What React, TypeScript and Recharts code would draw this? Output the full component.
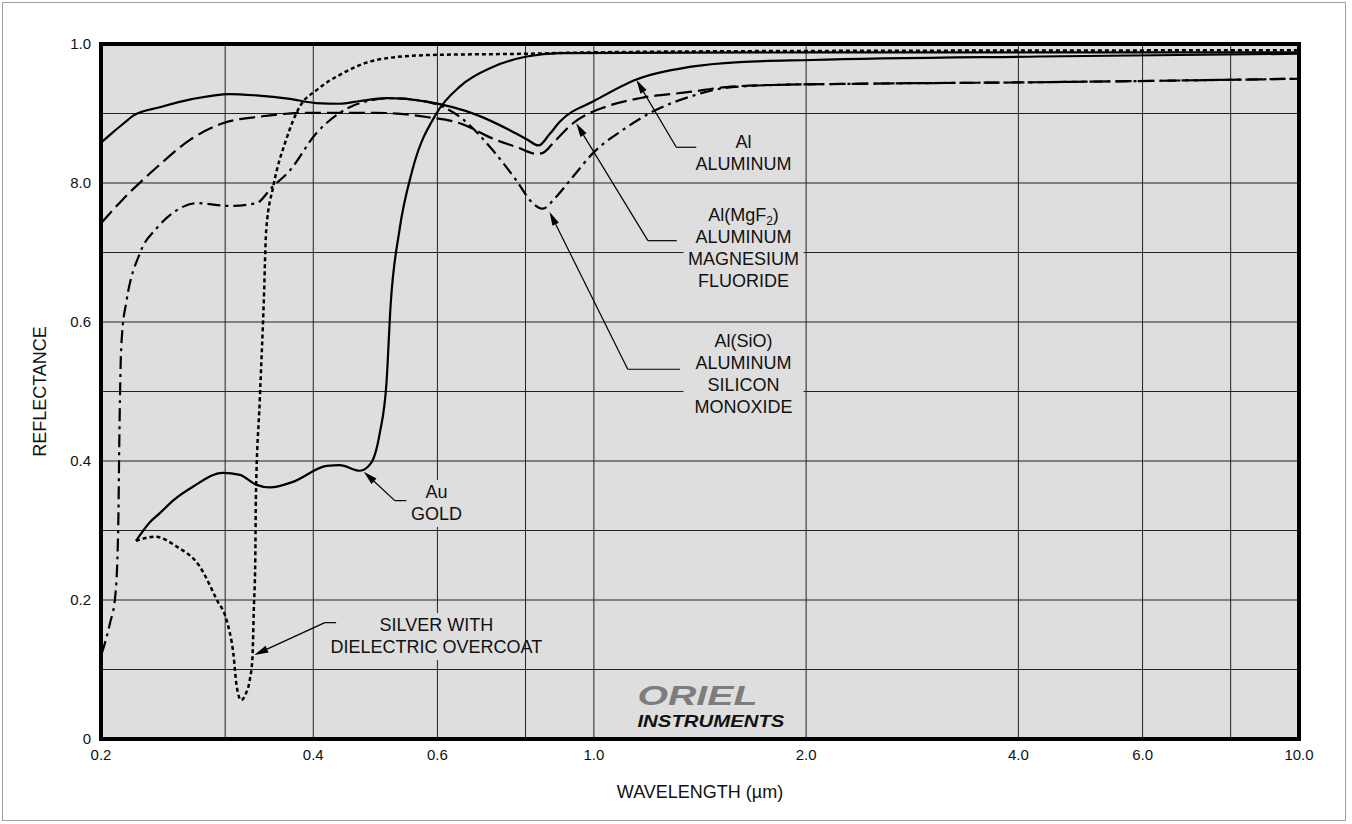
import React from 'react';
import {
  LineChart,
  Line,
  XAxis,
  YAxis,
  CartesianGrid,
  ReferenceArea,
  ReferenceLine,
  ReferenceDot,
} from 'recharts';

// [wavelength µm, reflectance]
const aluminum: [number, number][] = [
  [0.2, 0.858], [0.2085, 0.874], [0.2173, 0.889], [0.2222, 0.897], [0.2424, 0.909],
  [0.27, 0.921], [0.3047, 0.928], [0.332, 0.926], [0.3705, 0.921], [0.404, 0.915],
  [0.436, 0.914], [0.466, 0.918], [0.508, 0.922], [0.579, 0.917], [0.682, 0.898],
  [0.76, 0.876], [0.803, 0.863], [0.835, 0.854], [0.865, 0.87], [0.8945, 0.888],
  [1.005, 0.919], [1.149, 0.949], [1.367, 0.967], [1.609, 0.974], [2.035, 0.977],
  [4.28, 0.982], [10, 0.986],
];

const aluminumMgF2: [number, number][] = [
  [0.2, 0.742], [0.2146, 0.776], [0.2402, 0.823], [0.2674, 0.862], [0.2977, 0.886],
  [0.3392, 0.896], [0.392, 0.901], [0.436, 0.901], [0.4914, 0.901], [0.579, 0.895],
  [0.6456, 0.886], [0.719, 0.864], [0.78, 0.851], [0.829, 0.842], [0.845, 0.843],
  [0.88, 0.86], [0.934, 0.886], [1.042, 0.91], [1.161, 0.922], [1.367, 0.931],
  [1.54, 0.938], [1.79, 0.941], [2.48, 0.943], [4.28, 0.945], [10, 0.95],
];

const aluminumSiO: [number, number][] = [
  [0.2005, 0.123], [0.206, 0.167], [0.2095, 0.205], [0.2115, 0.296], [0.2124, 0.44],
  [0.2132, 0.535], [0.2143, 0.584], [0.2172, 0.628], [0.2271, 0.699], [0.2399, 0.735],
  [0.253, 0.757], [0.2733, 0.771], [0.3047, 0.767], [0.3323, 0.771], [0.349, 0.793],
  [0.3705, 0.818], [0.4043, 0.872], [0.4335, 0.899], [0.4656, 0.915], [0.518, 0.922],
  [0.579, 0.917], [0.646, 0.895], [0.719, 0.847], [0.776, 0.804], [0.819, 0.771],
  [0.846, 0.763], [0.884, 0.78], [0.934, 0.809], [0.997, 0.843], [1.098, 0.876],
  [1.224, 0.905], [1.367, 0.924], [1.52, 0.936], [1.79, 0.941], [2.48, 0.943],
  [4.28, 0.945], [10, 0.95],
];

const gold: [number, number][] = [
  [0.2242, 0.285], [0.2346, 0.312], [0.2424, 0.325], [0.253, 0.343], [0.27, 0.363],
  [0.2977, 0.383], [0.3148, 0.38], [0.3316, 0.366], [0.3471, 0.362], [0.3742, 0.37],
  [0.4181, 0.393], [0.4362, 0.394], [0.4656, 0.386], [0.483, 0.397], [0.497, 0.44],
  [0.508, 0.512], [0.515, 0.625], [0.53, 0.732], [0.553, 0.819], [0.598, 0.9],
  [0.646, 0.939], [0.719, 0.967], [0.803, 0.982], [0.8945, 0.987], [2.035, 0.988],
  [10, 0.988],
];

const silver: [number, number][] = [
  [0.2242, 0.285], [0.2385, 0.291], [0.256, 0.277], [0.2762, 0.248], [0.292, 0.2],
  [0.3014, 0.171], [0.3081, 0.123], [0.3116, 0.075], [0.316, 0.056], [0.3212, 0.066],
  [0.3251, 0.085], [0.328, 0.118], [0.3294, 0.186], [0.331, 0.258], [0.3316, 0.344],
  [0.3359, 0.488], [0.3404, 0.632], [0.343, 0.732], [0.351, 0.795], [0.366, 0.862],
  [0.3828, 0.91], [0.4047, 0.934], [0.4405, 0.958], [0.4914, 0.977], [0.579, 0.984],
  [0.803, 0.986], [1.0, 0.988], [2.0, 0.99], [10, 0.991],
];

const xGrid = [0.2, 0.3, 0.4, 0.6, 0.8, 1, 2, 4, 6, 8, 10];
const xTickLabels = ['0.2', '', '0.4', '0.6', '', '1.0', '2.0', '4.0', '6.0', '', '10.0'];
const yGrid = [0, 0.1, 0.2, 0.3, 0.4, 0.5, 0.6, 0.7, 0.8, 0.9, 1.0];
const yTickLabels = ['0', '', '0.2', '', '0.4', '', '0.6', '', '8.0', '', '1.0'];

const series = [
  { key: 'al', points: aluminum, dash: undefined, width: 2.2 },
  { key: 'mgf2', points: aluminumMgF2, dash: '16 6', width: 2.2 },
  { key: 'sio', points: aluminumSiO, dash: '13 5 3 5', width: 2.2 },
  { key: 'au', points: gold, dash: undefined, width: 2.2 },
  { key: 'ag', points: silver, dash: '4 3', width: 2.5 },
];

// callout anchors in data space: text = first baseline, leader runs tail -> elbow -> tip
const callouts = [
  { lines: ['Al', 'ALUMINUM'], text: [1.63, 0.85], box: 0, tip: [1.149, 0.9485], elbow: [1.309, 0.8514], tail: [1.397, 0.8514] },
  { lines: ['Al(MgF_2)', 'ALUMINUM', 'MAGNESIUM', 'FLUORIDE'], text: [1.63, 0.7453], box: 120, tip: [0.944, 0.886], elbow: [1.193, 0.717], tail: [1.311, 0.717] },
  { lines: ['Al(SiO)', 'ALUMINUM', 'SILICON', 'MONOXIDE'], text: [1.63, 0.564], box: 120, tip: [0.865, 0.7587], elbow: [1.117, 0.532], tail: [1.325, 0.532] },
  { lines: ['Au', 'GOLD'], text: [0.598, 0.3468], box: 56, tip: [0.4717, 0.3846], elbow: [0.522, 0.343], tail: [0.542, 0.343] },
  { lines: ['SILVER WITH', 'DIELECTRIC OVERCOAT'], text: [0.598, 0.1554], box: 160, tip: [0.33, 0.1209], elbow: [0.4154, 0.1674], tail: [0.431, 0.1674] },
];

const logoAt = [1.153, 0.049];

const FONT = '"Liberation Sans", Arial, Helvetica, sans-serif';
const PLOT_BG = '#dedede';
const LINE_H = 22;

const toRows = (pts: [number, number][]) => pts.map(([w, r]) => ({ w, r }));

const renderLine = (txt: string, i: number, cx: number, cy: number) => {
  const y = cy + i * LINE_H;
  if (txt.includes('_')) {
    const [head, rest] = txt.split('_');
    return (
      <text key={i} x={cx} y={y} textAnchor="middle" fontSize={18} fill="#111">
        {head}
        <tspan fontSize={12} dy={4}>{rest[0]}</tspan>
        <tspan dy={-4}>{rest.slice(1)}</tspan>
      </text>
    );
  }
  return (
    <text key={i} x={cx} y={y} textAnchor="middle" fontSize={18} fill="#111">
      {txt}
    </text>
  );
};

const calloutShape = (lines: string[], box: number) => (p: any) => {
  const { cx, cy } = p;
  return (
    <g>
      {box > 0 && (
        <rect
          x={cx - box / 2}
          y={cy - 18}
          width={box}
          height={(lines.length - 1) * LINE_H + 25}
          fill={PLOT_BG}
        />
      )}
      {lines.map((t, i) => renderLine(t, i, cx, cy))}
    </g>
  );
};

const arrowShape = (p: any) => {
  const { x1, y1, x2, y2 } = p;
  const dx = x2 - x1;
  const dy = y2 - y1;
  const len = Math.hypot(dx, dy) || 1;
  const ux = dx / len;
  const uy = dy / len;
  const L = 14;
  const W = 3.6;
  const bx = x2 - ux * L;
  const by = y2 - uy * L;
  return (
    <g>
      <line x1={x1} y1={y1} x2={bx} y2={by} stroke="#000" strokeWidth={1.2} />
      <polygon
        points={`${x2},${y2} ${bx - uy * W},${by + ux * W} ${bx + uy * W},${by - ux * W}`}
        fill="#000"
      />
    </g>
  );
};

const logoShape = (p: any) => {
  const { cx, cy } = p;
  return (
    <g>
      <text
        x={cx}
        y={cy}
        fontSize={27}
        fontWeight={900}
        fontStyle="italic"
        fill="#7d7d7d"
        textLength={120}
        lengthAdjust="spacingAndGlyphs"
      >
        ORIEL
      </text>
      <text
        x={cx}
        y={cy + 22}
        fontSize={17}
        fontWeight={700}
        fontStyle="italic"
        fill="#111"
        textLength={147}
        lengthAdjust="spacingAndGlyphs"
      >
        INSTRUMENTS
      </text>
    </g>
  );
};

const App: React.FC = () => {
  return (
    <div
      style={{
        position: 'absolute',
        left: 0,
        top: 0,
        width: 1352,
        height: 824,
        background: '#fff',
        fontFamily: FONT,
      }}
    >
      <div
        style={{
          position: 'absolute',
          left: 2,
          top: 2,
          width: 1344,
          height: 819,
          border: '1.5px solid #a0a0a0',
          boxSizing: 'border-box',
        }}
      />
      <LineChart width={1352} height={824} margin={{ top: 44, right: 53, bottom: 0, left: -21 }}>
        <CartesianGrid stroke="#222" strokeWidth={1} fill={PLOT_BG} fillOpacity={1} />
        <XAxis
          dataKey="w"
          type="number"
          scale="log"
          domain={[0.2, 10]}
          ticks={xGrid}
          interval={0}
          height={85}
          tickSize={0}
          tickMargin={10}
          tickLine={false}
          axisLine={false}
          tick={{ fontSize: 15, fill: '#111' }}
          tickFormatter={(v: number) => xTickLabels[xGrid.indexOf(v)] ?? ''}
          label={{ value: 'WAVELENGTH (µm)', position: 'insideBottom', offset: 26, fontSize: 18, fill: '#111' }}
        />
        <YAxis
          type="number"
          domain={[0, 1]}
          ticks={yGrid}
          interval={0}
          width={122}
          tickSize={0}
          tickMargin={10}
          tickLine={false}
          axisLine={false}
          tick={{ fontSize: 15, fill: '#111' }}
          tickFormatter={(v: number) => yTickLabels[yGrid.indexOf(v)] ?? ''}
          label={{ value: 'REFLECTANCE', angle: -90, position: 'center', fontSize: 18, fill: '#111' }}
        />
        {series.map((s) => (
          <Line
            key={s.key}
            data={toRows(s.points)}
            dataKey="r"
            type="monotone"
            stroke="#000"
            strokeWidth={s.width}
            strokeDasharray={s.dash}
            dot={false}
            activeDot={false}
            isAnimationActive={false}
          />
        ))}
        {callouts.map((c, i) => (
          <ReferenceDot
            key={`t${i}`}
            x={c.text[0]}
            y={c.text[1]}
            r={0}
            shape={calloutShape(c.lines, c.box)}
          />
        ))}
        {callouts.map((c, i) => (
          <ReferenceLine
            key={`h${i}`}
            segment={[{ x: c.tail[0], y: c.tail[1] }, { x: c.elbow[0], y: c.elbow[1] }]}
            stroke="#000"
            strokeWidth={1.2}
          />
        ))}
        {callouts.map((c, i) => (
          <ReferenceLine
            key={`a${i}`}
            segment={[{ x: c.elbow[0], y: c.elbow[1] }, { x: c.tip[0], y: c.tip[1] }]}
            shape={arrowShape}
          />
        ))}
        <ReferenceDot x={logoAt[0]} y={logoAt[1]} r={0} shape={logoShape} />
        <ReferenceArea x1={0.2} x2={10} y1={0} y2={1} fill="none" stroke="#000" strokeWidth={4} />
      </LineChart>
    </div>
  );
};

export default App;
